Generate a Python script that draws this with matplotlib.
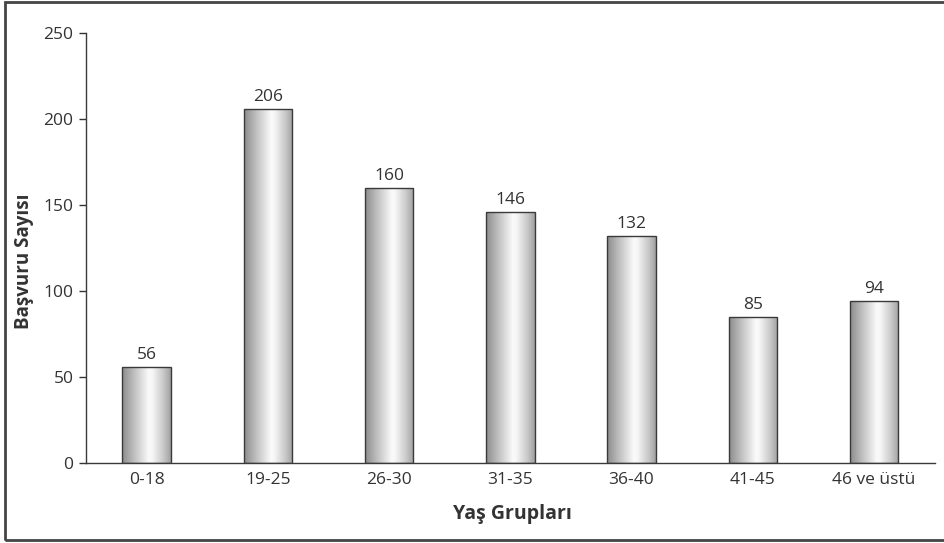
import matplotlib
matplotlib.use("Agg")
import matplotlib.pyplot as plt
import numpy as np
from matplotlib.colors import LinearSegmentedColormap
from matplotlib.patches import Rectangle

plt.rcParams["font.family"] = ["Open Sans", "DejaVu Sans"]

age_groups = ["0-18", "19-25", "26-30", "31-35", "36-40", "41-45", "46 ve üstü"]
counts = [56, 206, 160, 146, 132, 85, 94]
y_ticks = [0, 50, 100, 150, 200, 250]

TEXT = "#333333"
LINE = "#3a3a3a"

# metallic cylinder shading across each bar
shade = LinearSegmentedColormap.from_list(
    "cyl",
    [(0.0, "#8c8c8c"), (0.25, "#c0c0c0"), (0.55, "#fafafa"),
     (0.62, "#f6f6f6"), (0.85, "#c8c8c8"), (1.0, "#a0a0a0")],
)

fig = plt.figure(figsize=(9.45, 5.43), dpi=100)
ax = fig.add_axes([0.091, 0.147, 0.898, 0.792])

x = np.arange(len(age_groups))
width = 0.40
bars = ax.bar(x, counts, width=width, facecolor="none", edgecolor=LINE,
              linewidth=1.0, zorder=3)

grad = np.linspace(0, 1, 256).reshape(1, -1)
for bar in bars:
    x0, y0 = bar.get_x(), bar.get_y()
    w, h = bar.get_width(), bar.get_height()
    im = ax.imshow(grad, cmap=shade, aspect="auto",
                   extent=(x0, x0 + w, y0, y0 + h), zorder=2)
    im.set_clip_path(bar)
    ax.text(x0 + w / 2, h + 2.5, f"{h:.0f}", ha="center", va="bottom",
            fontsize=12.5, color=TEXT)

ax.set_xlim(-0.5, len(age_groups) - 0.5)
ax.set_ylim(0, 250)
ax.set_yticks(y_ticks)
ax.set_xticks(x)
ax.set_xticklabels(age_groups)
ax.tick_params(axis="x", length=0, pad=6, labelsize=12.5, colors=TEXT)
ax.tick_params(axis="y", length=5, width=1, pad=4, labelsize=12.5,
               colors=TEXT, direction="out")

for side in ("top", "right"):
    ax.spines[side].set_visible(False)
for side in ("left", "bottom"):
    ax.spines[side].set_color(LINE)
    ax.spines[side].set_linewidth(1.0)

ax.set_ylabel("Başvuru Sayısı", fontsize=13.5, fontweight="bold", color=TEXT)
ax.yaxis.set_label_coords(-0.061, 0.47)
ax.set_xlabel("Yaş Grupları", fontsize=14, fontweight="bold", color=TEXT)
ax.xaxis.set_label_coords(0.503, -0.095)

# frame around the whole chart
fig.patches.append(Rectangle((0.005, 0.005), 1.0, 0.992,
                             transform=fig.transFigure, fill=False,
                             edgecolor="#444444", linewidth=2.0,
                             clip_on=False))

fig.savefig("out.png", dpi=100)
